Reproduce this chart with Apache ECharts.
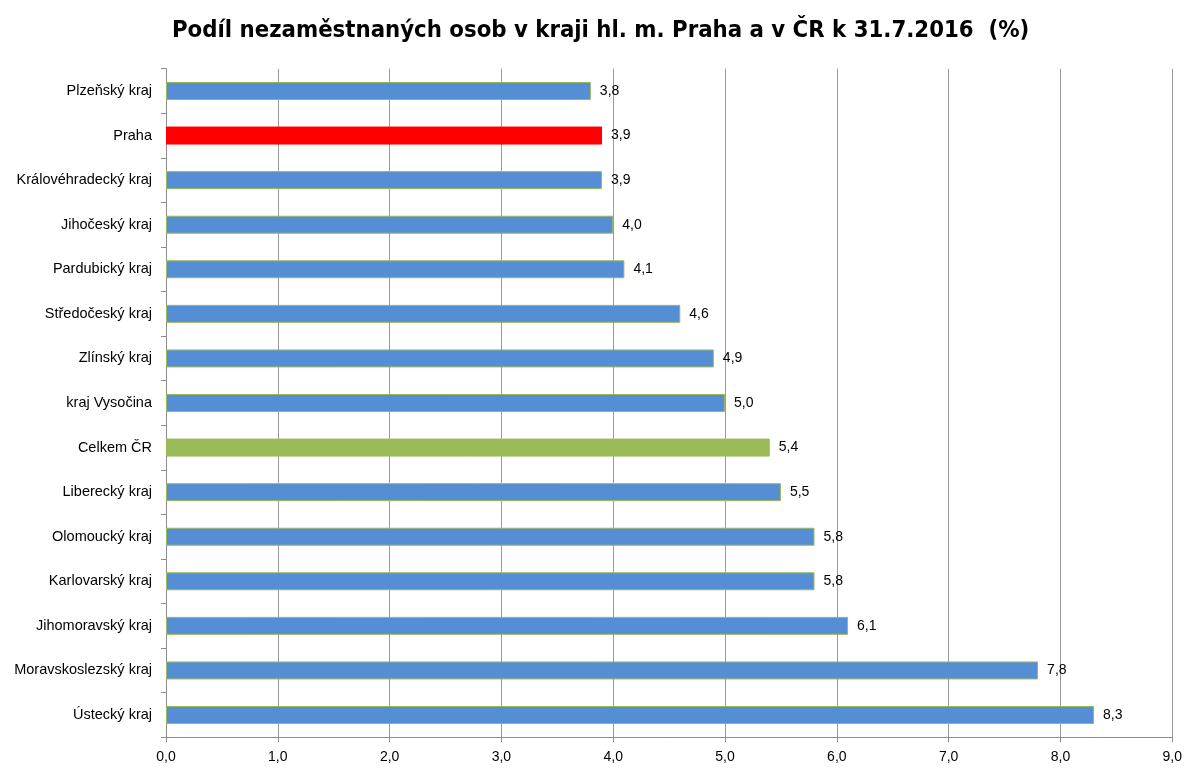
<!DOCTYPE html>
<html>
<head>
<meta charset="utf-8">
<script src="https://cdn.jsdelivr.net/npm/echarts@6/dist/echarts.min.js"></script>
<style>html,body{margin:0;padding:0;background:#fff;}#c{width:1185px;height:769px;}</style>
</head>
<body>
<div id="c"></div>
<script>
const categories = ['Plzeňský kraj','Praha','Královéhradecký kraj','Jihočeský kraj','Pardubický kraj','Středočeský kraj','Zlínský kraj','kraj Vysočina','Celkem ČR','Liberecký kraj','Olomoucký kraj','Karlovarský kraj','Jihomoravský kraj','Moravskoslezský kraj','Ústecký kraj'];
const values = [3.8,3.9,3.9,4.0,4.1,4.6,4.9,5.0,5.4,5.5,5.8,5.8,6.1,7.8,8.3];
const titleText = 'Podíl nezaměstnaných osob v kraji hl. m. Praha a v ČR k 31.7.2016  (%)';

const colorFor = name => name === 'Praha' ? '#ff0000' : (name === 'Celkem ČR' ? '#9bbb59' : '#558ed5');
const fmt = v => v.toFixed(1).replace('.', ',');

const chart = echarts.init(document.getElementById('c'));
chart.setOption({
  animation: false,
  title: {
    text: titleText, left: 167, top: 14,
    textStyle: {fontFamily: 'DejaVu Sans Condensed', fontWeight: 'bold', fontSize: 23.7, color: '#000'}
  },
  grid: {left: 166, right: 11, top: 68.7, bottom: 31.7, containLabel: false},
  xAxis: {
    type: 'value', min: 0, max: 9, interval: 1,
    axisLine: {show: true, lineStyle: {color: '#8c8c8c'}},
    axisTick: {show: true, length: 5, lineStyle: {color: '#8c8c8c'}},
    axisLabel: {formatter: v => fmt(v), fontFamily: 'Liberation Sans', fontSize: 14, color: '#000', margin: 13},
    splitLine: {show: true, lineStyle: {color: '#9a9a9a', width: 1}}
  },
  yAxis: {
    type: 'category', data: categories, inverse: true,
    axisLine: {show: true, lineStyle: {color: '#8c8c8c'}},
    axisTick: {show: true, length: 5, lineStyle: {color: '#8c8c8c'}},
    axisLabel: {fontFamily: 'Liberation Sans', fontSize: 14.5, color: '#000', margin: 14}
  },
  series: [{
    type: 'bar', barWidth: 18,
    data: values.map((v, i) => ({
      value: v,
      itemStyle: {color: colorFor(categories[i]), borderColor: categories[i] === 'Praha' ? '#ff0000' : '#9bbb59', borderWidth: 1}
    })),
    label: {show: true, position: 'right', distance: 9, formatter: p => fmt(p.value), fontFamily: 'Liberation Sans', fontSize: 14, color: '#000'}
  }]
});
</script>
</body>
</html>
